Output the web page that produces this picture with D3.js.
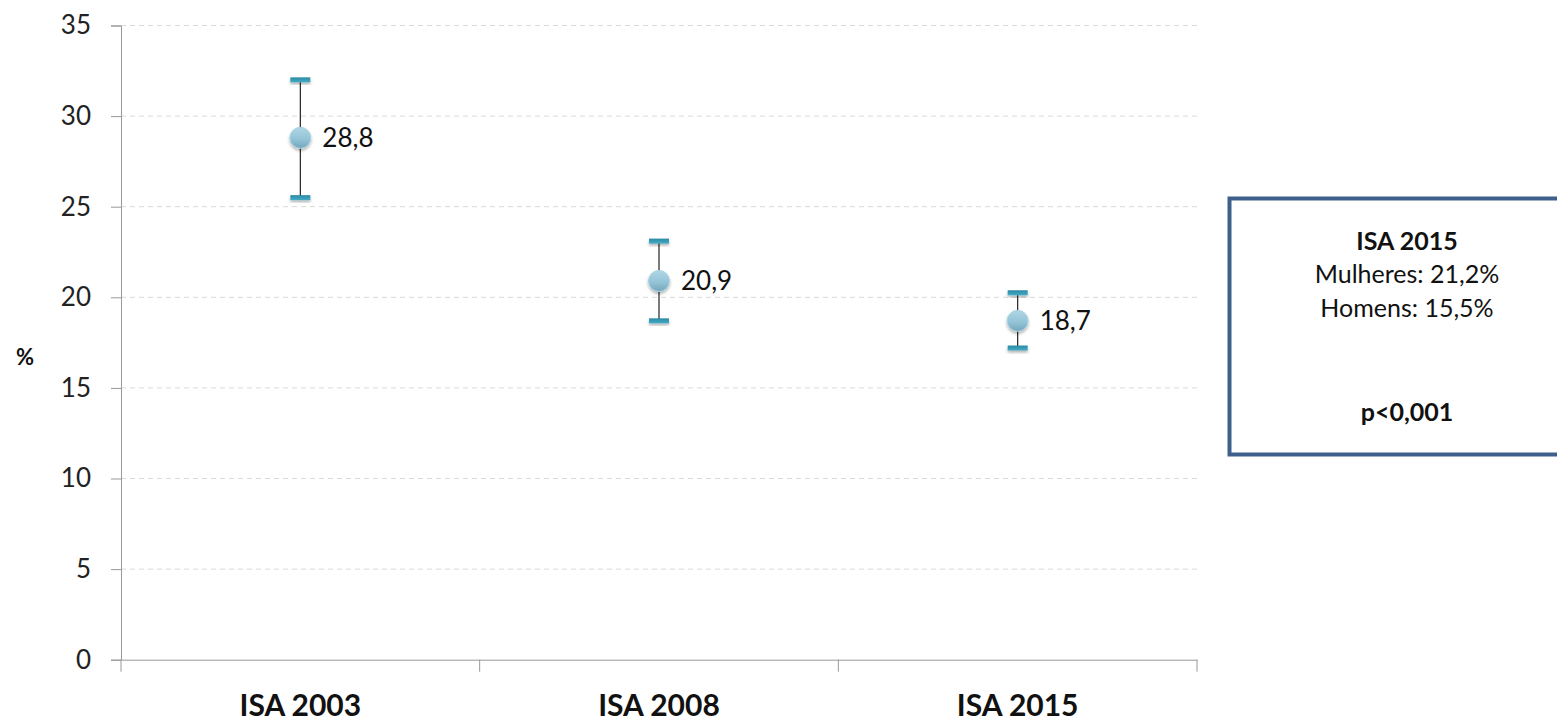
<!DOCTYPE html>
<html><head><meta charset="utf-8">
<script src="https://cdn.jsdelivr.net/npm/d3@7"></script>
<style>body{margin:0;background:#fff}svg{display:block}</style>
</head><body>
<svg id="chart" width="1557" height="721"></svg>
<script>
const categories = ["ISA 2003", "ISA 2008", "ISA 2015"];
const values = [28.8, 20.9, 18.7];
const lower = [25.5, 18.7, 17.2];
const upper = [32.0, 23.1, 20.25];
const valueLabels = ["28,8", "20,9", "18,7"];
const yTicks = [0, 5, 10, 15, 20, 25, 30, 35];
const boxLines = ["ISA 2015", "Mulheres: 21,2%", "Homens: 15,5%", "p<0,001"];

const svg = d3.select("#chart");
const font = "Lato, 'Open Sans', sans-serif";
const m = {left: 121, right: 1197, top: 25.5, bottom: 659.7};

const x = d3.scaleBand().domain(categories).range([m.left, m.right]).padding(0);
const y = d3.scaleLinear().domain([0, 35]).range([m.bottom, m.top]);

const defs = svg.append("defs");
const mg = defs.append("linearGradient").attr("id", "mk").attr("x1", 0).attr("y1", 0).attr("x2", 0).attr("y2", 1);
mg.append("stop").attr("offset", "0%").attr("stop-color", "#afd6e5");
mg.append("stop").attr("offset", "55%").attr("stop-color", "#94c4d7");
mg.append("stop").attr("offset", "100%").attr("stop-color", "#74a5ba");
const cg = defs.append("linearGradient").attr("id", "cap").attr("x1", 0).attr("y1", 0).attr("x2", 0).attr("y2", 1);
cg.append("stop").attr("offset", "0%").attr("stop-color", "#2a8aa3");
cg.append("stop").attr("offset", "100%").attr("stop-color", "#45abc6");
const f = defs.append("filter").attr("id", "sh").attr("x", "-50%").attr("y", "-50%").attr("width", "200%").attr("height", "200%");
f.append("feDropShadow").attr("dx", 0).attr("dy", 2).attr("stdDeviation", 1.5).attr("flood-color", "#000").attr("flood-opacity", 0.3);

// gridlines
svg.append("g").selectAll("line").data(yTicks.filter(d => d > 0)).join("line")
  .attr("x1", m.left).attr("x2", m.right)
  .attr("y1", d => y(d)).attr("y2", d => y(d))
  .attr("stroke", "#d9d9d9").attr("stroke-dasharray", "5,4").attr("stroke-width", 1);

// y axis
const yAxis = svg.append("g").attr("transform", `translate(${m.left},0)`)
  .call(d3.axisLeft(y).tickValues(yTicks).tickSize(10).tickPadding(20));
yAxis.select(".domain").attr("stroke", "#999");
yAxis.selectAll(".tick line").attr("stroke", "#999");
yAxis.selectAll(".tick text").attr("font-family", font).attr("font-size", 26).attr("fill", "#222");

// x axis
const xAxis = svg.append("g").attr("transform", `translate(0,${m.bottom})`)
  .call(d3.axisBottom(x).tickSize(0).tickPadding(35));
xAxis.select(".domain").attr("stroke", "#999");
xAxis.selectAll(".tick text").attr("font-family", font).attr("font-size", 30).attr("font-weight", "bold").attr("fill", "#111");
svg.append("g").selectAll("line").data(d3.range(categories.length + 1)).join("line")
  .attr("x1", i => m.left + i * x.bandwidth()).attr("x2", i => m.left + i * x.bandwidth())
  .attr("y1", m.bottom).attr("y2", m.bottom + 12).attr("stroke", "#999");

// % label
svg.append("text").attr("x", 25).attr("y", 365).attr("text-anchor", "middle")
  .attr("font-family", font).attr("font-size", 22).attr("font-weight", "bold").attr("fill", "#111").text("%");

const cx = d => x(d) + x.bandwidth() / 2;
const g = svg.append("g");
categories.forEach((c, i) => {
  g.append("line").attr("x1", cx(c)).attr("x2", cx(c)).attr("y1", y(upper[i])).attr("y2", y(lower[i]))
    .attr("stroke", "#222").attr("stroke-width", 1.2);
  [upper[i], lower[i]].forEach(v => {
    g.append("rect").attr("x", cx(c) - 10).attr("y", y(v) - 2.5).attr("width", 20).attr("height", 5)
      .attr("fill", "url(#cap)").attr("filter", "url(#sh)");
  });
  g.append("circle").attr("cx", cx(c)).attr("cy", y(values[i])).attr("r", 10.5)
    .attr("fill", "url(#mk)").attr("stroke", "#a9d3e3").attr("stroke-width", 1).attr("filter", "url(#sh)");
  g.append("text").attr("x", cx(c) + 22).attr("y", y(values[i])).attr("dy", "0.36em")
    .attr("font-family", font).attr("font-size", 26).attr("fill", "#111").text(valueLabels[i]);
});

// annotation box
svg.append("rect").attr("x", 1229.5).attr("y", 198.5).attr("width", 340).attr("height", 256)
  .attr("fill", "#fff").attr("stroke", "#3e5f8a").attr("stroke-width", 4);
const bx = 1407;
const lineY = [250, 283, 317, 421];
boxLines.forEach((t, i) => {
  svg.append("text").attr("x", bx).attr("y", lineY[i]).attr("text-anchor", "middle")
    .attr("font-family", font).attr("font-size", 25)
    .attr("font-weight", (i === 0 || i === 3) ? "bold" : "normal").attr("fill", "#111").text(t);
});
</script>
</body></html>
